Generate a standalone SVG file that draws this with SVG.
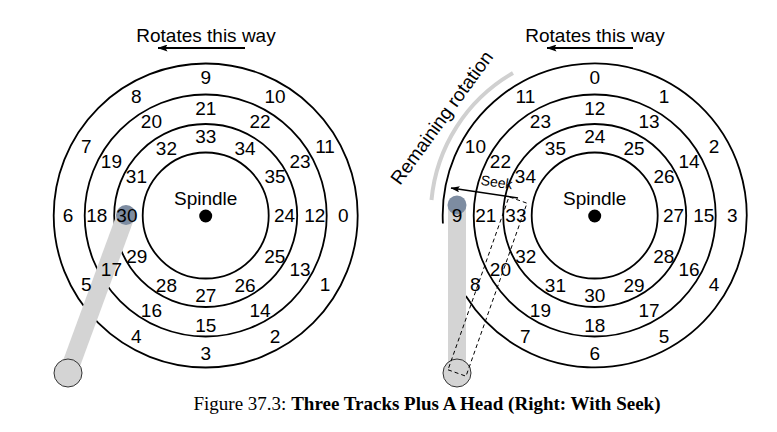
<svg xmlns="http://www.w3.org/2000/svg" width="777" height="432" viewBox="0 0 777 432">
<defs>
<style>
.trk{fill:none;stroke:#000;stroke-width:1.8}
.lbl{font-family:"Liberation Sans",Arial,sans-serif;font-size:19px;fill:#000;text-anchor:middle}
.arm{stroke:#d4d4d4;stroke-width:18;fill:none}
.pivot{fill:#d4d4d4;stroke:#333;stroke-width:1}
.head{fill:#7d8ca1}
.dash{fill:none;stroke:#000;stroke-width:1;stroke-dasharray:4 3}
.arr{stroke:#000;stroke-width:2;fill:none}
</style>
<marker id="ah" viewBox="0 0 10 7" refX="9.5" refY="3.5" markerWidth="10" markerHeight="7" markerUnits="userSpaceOnUse" orient="auto">
<path d="M0,0 L10,3.5 L0,7 L2,3.5 z" fill="#000"/>
</marker>
<marker id="ahs" viewBox="0 0 10 7" refX="9.5" refY="3.5" markerWidth="9" markerHeight="6.5" markerUnits="userSpaceOnUse" orient="auto">
<path d="M0,0 L10,3.5 L0,7 L2,3.5 z" fill="#000"/>
</marker>
</defs>
<rect width="777" height="432" fill="#fff"/>

<!-- LEFT DISK -->
<g id="left-disk">
<circle class="trk" cx="205.7" cy="215.5" r="152"/>
<circle class="trk" cx="205.7" cy="215.5" r="121"/>
<circle class="trk" cx="205.7" cy="215.5" r="91.5"/>
<circle class="trk" cx="205.7" cy="215.5" r="63"/>
<circle cx="205.7" cy="216" r="6.5" fill="#000"/>
</g>
<g id="left-head">
<line class="arm" x1="68" y1="373" x2="126" y2="215"/>
<circle class="pivot" cx="68" cy="373" r="14"/>
<circle class="head" cx="126" cy="215" r="10"/>
</g>
<g id="left-labels" class="lbl">
<text x="205.7" y="205">Spindle</text>
<text x="205.7" y="84">9</text><text x="275" y="103">10</text><text x="325" y="153">11</text><text x="343.3" y="222.3">0</text>
<text x="325" y="291">1</text><text x="275" y="342.7">2</text><text x="205.7" y="360">3</text><text x="136.4" y="342.7">4</text>
<text x="86.4" y="291">5</text><text x="68.1" y="222.3">6</text><text x="86.4" y="153">7</text><text x="136.4" y="103">8</text>
<text x="205.7" y="115">21</text><text x="260" y="128">22</text><text x="300" y="168">23</text><text x="314.7" y="222">12</text>
<text x="300" y="276">13</text><text x="260" y="316.7">14</text><text x="205.7" y="331.7">15</text><text x="151.4" y="316.7">16</text>
<text x="111.4" y="276">17</text><text x="96.7" y="222">18</text><text x="111.4" y="168">19</text><text x="151.4" y="128">20</text>
<text x="205.7" y="143">33</text><text x="245" y="155">34</text><text x="275" y="183">35</text><text x="284.5" y="222">24</text>
<text x="274.7" y="262.7">25</text><text x="245" y="291.5">26</text><text x="205.7" y="301.7">27</text><text x="166.4" y="291.5">28</text>
<text x="136.7" y="262.7">29</text><text x="126.9" y="222">30</text><text x="136.4" y="183">31</text><text x="166.4" y="155">32</text>
</g>
<g id="left-rotation">
<text class="lbl" x="206" y="42">Rotates this way</text>
<line class="arr" x1="245" y1="48" x2="158" y2="48" marker-end="url(#ah)"/>
</g>

<!-- RIGHT DISK -->
<g id="right-disk">
<path class="trk" d="M442.9,223.5 A152,152 0 1 1 465.8,296"/>
<circle class="trk" cx="594.7" cy="215.5" r="121"/>
<circle class="trk" cx="594.7" cy="215.5" r="91.5"/>
<circle class="trk" cx="594.7" cy="215.5" r="63"/>
<circle cx="594.7" cy="216" r="6.5" fill="#000"/>
</g>
<g id="remaining-rotation">
<path d="M431.5,200 A164,164 0 0 1 513,73" fill="none" stroke="#d0d0d0" stroke-width="4"/>
<text class="lbl" x="447" y="121.5" transform="rotate(-54 447 121.5)">Remaining rotation</text>
</g>
<g id="right-head">
<line class="arm" x1="457" y1="373" x2="457" y2="205"/>
<circle class="pivot" cx="457" cy="373" r="14"/>
<circle class="head" cx="457" cy="205" r="9.5"/>
<polygon class="dash" points="448,369.8 466,376.2 527,203.2 509,196.8"/>
</g>
<g id="right-labels" class="lbl">
<text x="594.7" y="205">Spindle</text>
<text x="594.7" y="84">0</text><text x="664" y="103">1</text><text x="714" y="153">2</text><text x="732.3" y="222.3">3</text>
<text x="714" y="291">4</text><text x="664" y="342.7">5</text><text x="594.7" y="360">6</text><text x="525.4" y="342.7">7</text>
<text x="475.4" y="291">8</text><text x="457.1" y="222.3">9</text><text x="475.4" y="153">10</text><text x="525.4" y="103">11</text>
<text x="594.7" y="115">12</text><text x="649" y="128">13</text><text x="689" y="168">14</text><text x="703.7" y="222">15</text>
<text x="689" y="276">16</text><text x="649" y="316.7">17</text><text x="594.7" y="331.7">18</text><text x="540.4" y="316.7">19</text>
<text x="500.4" y="276">20</text><text x="485.7" y="222">21</text><text x="500.4" y="168">22</text><text x="540.4" y="128">23</text>
<text x="594.7" y="143">24</text><text x="634" y="155">25</text><text x="664" y="183">26</text><text x="673.5" y="222">27</text>
<text x="663.7" y="262.7">28</text><text x="634" y="291.5">29</text><text x="594.7" y="301.7">30</text><text x="555.4" y="291.5">31</text>
<text x="525.7" y="262.7">32</text><text x="515.9" y="222">33</text><text x="525.4" y="183">34</text><text x="555.4" y="155">35</text>
</g>
<g id="connectors">
<line x1="518" y1="198" x2="451" y2="188" stroke="#000" stroke-width="1.5" marker-end="url(#ahs)"/>
<text x="496" y="187" transform="rotate(8 496 187)" style="font-family:'Liberation Sans',Arial,sans-serif;font-size:14px;text-anchor:middle">Seek</text>
</g>
<g id="right-rotation">
<text class="lbl" x="595" y="42">Rotates this way</text>
<line class="arr" x1="633" y1="48" x2="547" y2="48" marker-end="url(#ah)"/>
</g>

<text x="427" y="410" style="font-family:'Liberation Serif','Times New Roman',serif;font-size:19px;text-anchor:middle">Figure 37.3: <tspan font-weight="bold">Three Tracks Plus A Head (Right: With Seek)</tspan></text>
</svg>
